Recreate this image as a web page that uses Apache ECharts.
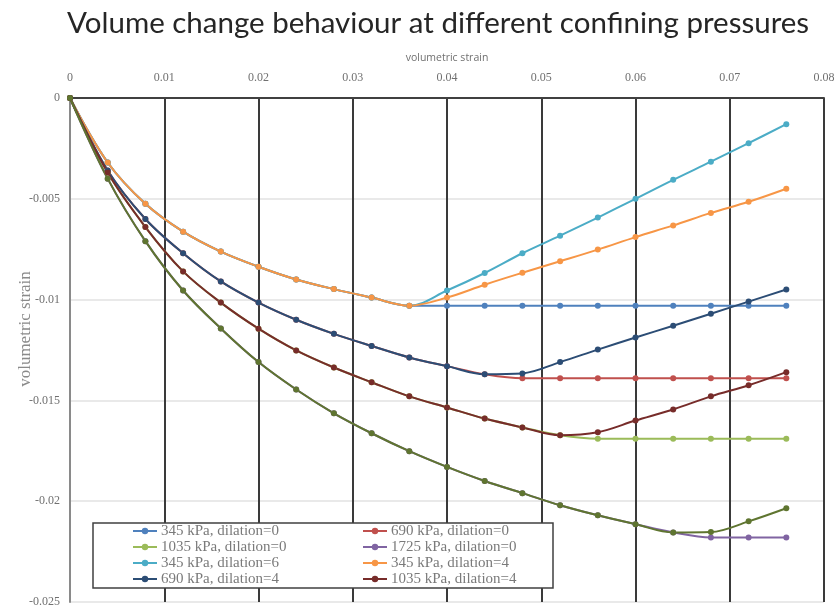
<!DOCTYPE html>
<html>
<head>
<meta charset="utf-8">
<script src="https://cdn.jsdelivr.net/npm/echarts@6/dist/echarts.min.js"></script>
<style>
  html, body { margin: 0; padding: 0; background: #fff; }
  #chart { width: 838px; height: 608px; }
</style>
</head>
<body>
<div id="chart"></div>
<script>
// Axial strain sample points (x) shared by every test curve
const strain = [0, 0.004, 0.008, 0.012, 0.016, 0.020, 0.024, 0.028, 0.032, 0.036,
                0.040, 0.044, 0.048, 0.052, 0.056, 0.060, 0.064, 0.068, 0.072, 0.076];

// Volumetric strain per test
const v345d0  = [0, -0.0032, -0.00525, -0.00663, -0.00762, -0.00837, -0.0090, -0.00948, -0.0099, -0.0103,
                 -0.0103, -0.0103, -0.0103, -0.0103, -0.0103, -0.0103, -0.0103, -0.0103, -0.0103, -0.0103];
const v690d0  = [0, -0.0036, -0.0060, -0.0077, -0.0091, -0.01015, -0.0110, -0.0117, -0.0123, -0.01287,
                 -0.0133, -0.0137, -0.0139, -0.0139, -0.0139, -0.0139, -0.0139, -0.0139, -0.0139, -0.0139];
const v1035d0 = [0, -0.0037, -0.0064, -0.0086, -0.01015, -0.01144, -0.01252, -0.01337, -0.0141, -0.0148,
                 -0.01535, -0.0159, -0.01634, -0.01673, -0.0169, -0.0169, -0.0169, -0.0169, -0.0169, -0.0169];
const v1725d0 = [0, -0.0040, -0.0071, -0.00955, -0.01143, -0.0131, -0.01446, -0.01564, -0.01663, -0.01752,
                 -0.0183, -0.0190, -0.0196, -0.0202, -0.0207, -0.02114, -0.02155, -0.0218, -0.0218, -0.0218];
const v345d6  = [0, -0.0032, -0.00525, -0.00663, -0.00762, -0.00837, -0.0090, -0.00948, -0.0099, -0.0103,
                 -0.00955, -0.00868, -0.0077, -0.00683, -0.00593, -0.0050, -0.00406, -0.00316, -0.00224, -0.0013];
const v345d4  = [0, -0.0032, -0.00525, -0.00663, -0.00762, -0.00837, -0.0090, -0.00948, -0.0099, -0.0103,
                 -0.0099, -0.00926, -0.00867, -0.0081, -0.00752, -0.0069, -0.00632, -0.0057, -0.00515, -0.0045];
const v690d4  = [0, -0.0036, -0.0060, -0.0077, -0.0091, -0.01015, -0.0110, -0.0117, -0.0123, -0.01287,
                 -0.0133, -0.0137, -0.01366, -0.0131, -0.01248, -0.01188, -0.0113, -0.0107, -0.0101, -0.0095];
const v1035d4 = [0, -0.0037, -0.0064, -0.0086, -0.01015, -0.01144, -0.01252, -0.01337, -0.0141, -0.0148,
                 -0.01535, -0.0159, -0.01634, -0.01673, -0.01658, -0.0160, -0.01545, -0.0148, -0.01425, -0.0136];
const v1725d4 = [0, -0.0040, -0.0071, -0.00955, -0.01143, -0.0131, -0.01446, -0.01564, -0.01663, -0.01752,
                 -0.0183, -0.0190, -0.0196, -0.0202, -0.0207, -0.02114, -0.02155, -0.02153, -0.0210, -0.02035];

const seriesNames = [
  '345 kPa, dilation=0', '690 kPa, dilation=0', '1035 kPa, dilation=0', '1725 kPa, dilation=0',
  '345 kPa, dilation=6', '345 kPa, dilation=4', '690 kPa, dilation=4', '1035 kPa, dilation=4',
  '1725 kPa, dilation=4'
];
const seriesValues = [v345d0, v690d0, v1035d0, v1725d0, v345d6, v345d4, v690d4, v1035d4, v1725d4];
const seriesColors = ['#4F81BD', '#C0504D', '#9BBB59', '#8064A2', '#4BACC6', '#F79646',
                      '#2C4D75', '#772C2A', '#5F7530'];

const legendLeftCol  = [seriesNames[0], seriesNames[2], seriesNames[4], seriesNames[6]];
const legendRightCol = [seriesNames[1], seriesNames[3], seriesNames[5], seriesNames[7]];

const serif = '"Liberation Serif", "Times New Roman", serif';

const chart = echarts.init(document.getElementById('chart'), null, { renderer: 'canvas' });

const series = seriesNames.map((name, i) => ({
  name: name,
  type: 'line',
  smooth: 0.35,
  symbol: 'circle',
  symbolSize: 6,
  color: seriesColors[i],
  lineStyle: { width: 2, color: seriesColors[i] },
  itemStyle: { color: seriesColors[i] },
  emphasis: { disabled: true },
  data: strain.map((x, k) => [x, seriesValues[i][k]])
}));

const legendCommon = {
  orient: 'vertical',
  top: 523,
  padding: 0,
  itemWidth: 24,
  itemHeight: 8,
  itemGap: 0,
  textStyle: { fontFamily: serif, fontSize: 15, color: '#7a7a7a', lineHeight: 16, padding: [0, 0, 0, -1] },
  selectedMode: false
};

chart.setOption({
  animation: false,
  backgroundColor: '#ffffff',
  title: {
    text: 'Volume change behaviour at different confining pressures',
    left: 62,
    top: 3,
    textStyle: { fontFamily: 'Lato, "Open Sans", sans-serif', fontSize: 29.5, fontWeight: 'normal', color: '#262626' }
  },
  grid: { left: 70, top: 98, right: 14, bottom: 4, containLabel: false },
  xAxis: {
    type: 'value',
    position: 'top',
    min: 0, max: 0.08, interval: 0.01,
    name: 'volumetric strain',
    nameLocation: 'middle',
    nameGap: 34,
    nameMoveOverlap: false,
    nameTextStyle: { fontFamily: '"Open Sans", sans-serif', fontSize: 10.5, color: '#707070' },
    axisLine: { show: true, onZero: false, lineStyle: { color: '#404040', width: 2 } },
    axisTick: { show: false },
    axisLabel: { fontFamily: serif, fontSize: 12, color: '#707070', margin: 14 },
    splitLine: { show: true, lineStyle: { color: '#3a3a3a', width: 2 } }
  },
  yAxis: {
    type: 'value',
    min: -0.025, max: 0, interval: 0.005,
    name: 'volumetric strain',
    nameLocation: 'middle',
    nameGap: 36,
    nameMoveOverlap: false,
    nameTextStyle: { fontFamily: serif, fontSize: 17, color: '#8a8a8a', padding: [0, 0, 0, 42] },
    axisLine: { show: true, onZero: false, lineStyle: { color: '#8a8a8a', width: 2 } },
    axisTick: { show: false },
    axisLabel: { fontFamily: serif, fontSize: 12, color: '#707070', margin: 10 },
    splitLine: { show: true, lineStyle: { color: '#e2e2e2', width: 1.5 } }
  },
  legend: [
    Object.assign({}, legendCommon, { left: 132, data: legendLeftCol }),
    Object.assign({}, legendCommon, { left: 362, data: legendRightCol })
  ],
  graphic: [{
    type: 'rect',
    z: 3,
    shape: { x: 93, y: 523, width: 460, height: 65 },
    style: { fill: '#ffffff', stroke: '#404040', lineWidth: 1.5 }
  }],
  series: series
});
</script>
</body>
</html>
